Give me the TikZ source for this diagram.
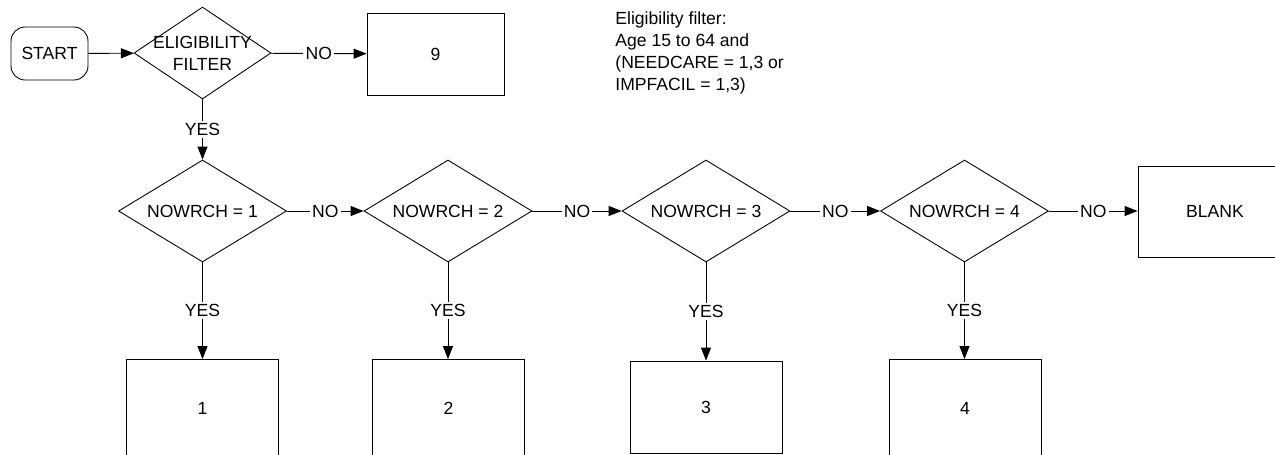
\documentclass[tikz,border=0pt]{standalone}
\usepackage{fontspec}
\setmainfont{Liberation Sans}
\usetikzlibrary{arrows.meta,positioning,shapes.geometric}
\tikzset{
  startbox/.style={
    draw, rounded corners=8pt, minimum width=1.54cm, minimum height=1.06cm,
    inner sep=0pt, align=center
  },
  decision/.style={
    draw, diamond, inner sep=0pt, aspect=1.6,
    minimum width=3.36cm, minimum height=2.04cm, align=center
  },
  outbox/.style={
    draw, rectangle, inner sep=0pt,
    minimum width=3.04cm, minimum height=1.88cm, align=center
  },
  arrow/.style={-{Triangle[length=2.6mm, width=2mm]}, line width=0.5pt},
  lbl/.style={fill=white, inner sep=1.2pt}
}
\begin{document}
\begin{tikzpicture}[x=0.02cm, y=-0.02cm, line width=0.5pt,
    font=\fontsize{10}{12.5}\selectfont]
  \useasboundingbox (0,0) rectangle (1275,454);
  \clip (0,0) rectangle (1275,454);
  \node[startbox] (start) at (49.5,53.5) {START};
  \node[decision, minimum width=2.74cm, minimum height=1.84cm] (elig) at (202.5,53) {};
  \node[align=center, inner sep=0pt] (eligtxt) at (elig) {ELIGIBILITY\\FILTER};
  \node[outbox, minimum width=2.74cm, minimum height=1.64cm] (b9) at (435.5,54) {9};
  \node[align=left, anchor=west, inner sep=0pt] (note) at (615,53)
    {Eligibility filter:\\Age 15 to 64 and\\(NEEDCARE = 1,3 or\\IMPFACIL = 1,3)};
  \node[decision] (d1) at (202.5,211) {NOWRCH = 1};
  \node[decision] (d2) at (448,211) {NOWRCH = 2};
  \node[decision] (d3) at (706,211) {NOWRCH = 3};
  \node[decision] (d4) at (964.5,211) {NOWRCH = 4};
  \node[outbox, minimum width=3.08cm, minimum height=1.82cm] (blank) at (1215,211.5) {BLANK};
  \node[outbox, minimum height=1.94cm] (b1) at (202.5,408) {1};
  \node[outbox, minimum height=1.94cm] (b2) at (448.5,408) {2};
  \node[outbox, minimum height=1.84cm] (b3) at (706,407) {3};
  \node[outbox, minimum height=1.94cm] (b4) at (965,408) {4};
  \draw[arrow] (start) -- (elig);
  \draw[arrow] (elig) -- node[lbl] {NO} (b9);
  \draw[arrow] (elig.south) -- node[lbl] {YES} (d1.north);
  \draw[arrow] (d1) -- node[lbl] {NO} (d2);
  \draw[arrow] (d2) -- node[lbl] {NO} (d3);
  \draw[arrow] (d3) -- node[lbl] {NO} (d4);
  \draw[arrow] (d4.east) -- node[lbl] {NO} (d4.east -| blank.west);
  \draw[arrow] (d1.south) -- node[lbl] {YES} (d1.south |- b1.north);
  \draw[arrow] (d2.south) -- node[lbl] {YES} (d2.south |- b2.north);
  \draw[arrow] (d3.south) -- node[lbl] {YES} (d3.south |- b3.north);
  \draw[arrow] (d4.south) -- node[lbl] {YES} (d4.south |- b4.north);
\end{tikzpicture}
\end{document}
